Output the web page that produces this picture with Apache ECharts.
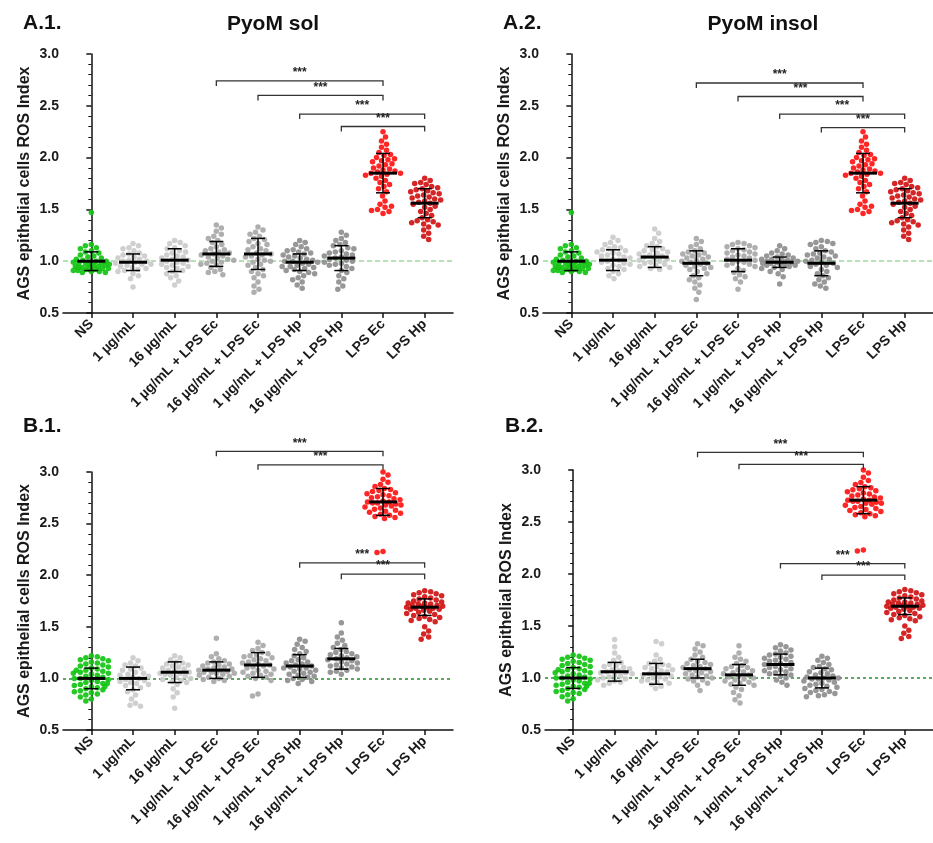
<!DOCTYPE html>
<html><head><meta charset="utf-8">
<script src="https://cdn.jsdelivr.net/npm/echarts@6/dist/echarts.min.js"></script>
<style>html,body{margin:0;padding:0;background:#fff}#c{width:933px;height:843px}</style>
</head><body><div id="c"></div>
<script>
// ---------- categories & ticks ----------
const categories = ['NS','1 µg/mL','16 µg/mL','1 µg/mL + LPS Ec','16 µg/mL + LPS Ec','1 µg/mL + LPS Hp','16 µg/mL + LPS Hp','LPS Ec','LPS Hp'];
const yMin = 0.5, yMax = 3.0, yInterval = 0.5;
const refValue = 1.0;

// ---------- shared controls (panels A) ----------
const A_NS = [1.47,1.16,1.15,1.13,1.12,1.10,1.09,1.08,1.06,1.05,1.04,1.03,1.02,1.01,1.00,1.00,0.99,0.99,0.98,0.98,0.97,0.97,0.96,0.96,0.95,0.95,0.94,0.94,0.93,0.93,0.92,0.92,0.91,0.91,0.90,0.90,0.89,0.89,0.96,0.94];
const A_LPSEc = [2.25,2.20,2.16,2.13,2.10,2.07,2.05,2.03,2.02,2.00,1.99,1.98,1.97,1.96,1.94,1.93,1.92,1.90,1.89,1.88,1.87,1.86,1.85,1.85,1.84,1.83,1.82,1.80,1.78,1.76,1.74,1.72,1.70,1.67,1.63,1.58,1.55,1.52,1.50,1.48,1.46,1.49,1.53];
const A_LPSHp = [1.80,1.78,1.76,1.75,1.74,1.72,1.71,1.70,1.69,1.68,1.67,1.66,1.65,1.64,1.63,1.62,1.61,1.60,1.59,1.58,1.57,1.56,1.55,1.53,1.52,1.50,1.48,1.46,1.44,1.42,1.40,1.39,1.38,1.37,1.36,1.35,1.33,1.30,1.27,1.24,1.21];

// ---------- A.1 PyoM sol ----------
const A1_1ug = [1.17,1.15,1.13,1.12,1.10,1.08,1.07,1.06,1.05,1.04,1.03,1.02,1.01,1.00,1.00,0.99,0.98,0.97,0.97,0.96,0.95,0.94,0.93,0.92,0.91,0.90,0.88,0.86,0.83,0.75];
const A1_16ug = [1.20,1.18,1.17,1.15,1.13,1.12,1.10,1.09,1.08,1.06,1.05,1.04,1.03,1.02,1.01,1.00,0.99,0.98,0.97,0.96,0.95,0.94,0.93,0.91,0.90,0.88,0.86,0.84,0.81,0.77];
const A1_1ugEc = [1.35,1.32,1.29,1.26,1.24,1.22,1.20,1.18,1.16,1.14,1.12,1.11,1.10,1.09,1.08,1.07,1.06,1.05,1.04,1.03,1.02,1.01,1.00,0.99,0.98,0.97,0.96,0.94,0.92,0.90,0.89,0.87];
const A1_16ugEc = [1.33,1.30,1.28,1.26,1.24,1.22,1.21,1.19,1.17,1.16,1.14,1.12,1.11,1.10,1.08,1.07,1.06,1.05,1.04,1.02,1.01,1.00,0.99,0.97,0.96,0.94,0.92,0.90,0.88,0.86,0.84,0.80,0.76,0.73,0.70];
const A1_1ugHp = [1.20,1.18,1.16,1.14,1.12,1.11,1.10,1.09,1.08,1.07,1.06,1.05,1.04,1.03,1.02,1.01,1.00,1.00,0.99,0.98,0.97,0.96,0.95,0.95,0.94,0.93,0.92,0.91,0.90,0.89,0.88,0.86,0.84,0.82,0.80,0.77,0.74];
const A1_16ugHp = [1.28,1.25,1.22,1.20,1.18,1.16,1.15,1.13,1.12,1.10,1.09,1.08,1.07,1.06,1.05,1.04,1.03,1.02,1.01,1.00,0.99,0.98,0.97,0.96,0.95,0.93,0.91,0.89,0.86,0.83,0.80,0.76,0.73];
const A1_mean = [1.00,0.99,1.01,1.07,1.07,0.99,1.03,1.85,1.56];
const A1_sd = [0.09,0.08,0.11,0.12,0.15,0.08,0.12,0.19,0.14];
const A1_brackets = [[3,7,2.74],[4,7,2.60],[5,8,2.42],[6,8,2.30]];

// ---------- A.2 PyoM insol ----------
const A2_1ug = [1.23,1.20,1.18,1.16,1.14,1.13,1.12,1.11,1.10,1.09,1.08,1.07,1.06,1.05,1.04,1.03,1.02,1.01,1.00,0.99,0.98,0.97,0.96,0.95,0.93,0.92,0.90,0.88,0.86,0.83];
const A2_16ug = [1.31,1.27,1.22,1.19,1.17,1.15,1.14,1.12,1.11,1.10,1.09,1.08,1.07,1.06,1.05,1.04,1.03,1.02,1.01,1.00,0.99,0.98,0.97,0.96,0.95,0.94,0.93,0.92];
const A2_1ugEc = [1.22,1.19,1.16,1.14,1.12,1.10,1.09,1.08,1.07,1.06,1.05,1.04,1.03,1.02,1.01,1.00,0.99,0.98,0.97,0.96,0.95,0.94,0.93,0.92,0.90,0.88,0.86,0.84,0.82,0.80,0.77,0.74,0.70,0.63];
const A2_16ugEc = [1.18,1.17,1.16,1.15,1.14,1.13,1.12,1.11,1.10,1.09,1.08,1.07,1.06,1.05,1.04,1.03,1.02,1.01,1.00,0.99,0.98,0.97,0.96,0.95,0.93,0.91,0.89,0.87,0.85,0.83,0.80,0.73];
const A2_1ugHp = [1.15,1.12,1.10,1.08,1.07,1.06,1.05,1.04,1.03,1.02,1.02,1.01,1.01,1.00,1.00,0.99,0.99,0.98,0.98,0.97,0.97,0.96,0.96,0.95,0.94,0.93,0.92,0.90,0.88,0.85,0.78];
const A2_16ugHp = [1.20,1.19,1.18,1.17,1.16,1.14,1.12,1.10,1.09,1.08,1.07,1.06,1.05,1.04,1.03,1.02,1.01,1.00,0.99,0.98,0.97,0.96,0.95,0.94,0.92,0.90,0.88,0.86,0.84,0.82,0.80,0.78,0.76,0.74];
const A2_mean = [1.00,1.01,1.04,0.98,1.01,0.99,0.98,1.85,1.56];
const A2_sd = [0.09,0.10,0.10,0.12,0.11,0.05,0.12,0.19,0.14];
const A2_brackets = [[3,7,2.72],[4,7,2.59],[5,8,2.42],[6,8,2.29]];

// ---------- shared controls (panels B) ----------
const B_NS = [1.22,1.21,1.20,1.19,1.18,1.17,1.16,1.15,1.14,1.13,1.12,1.11,1.10,1.09,1.08,1.07,1.06,1.05,1.04,1.03,1.02,1.01,1.00,1.00,0.99,0.98,0.97,0.96,0.95,0.94,0.93,0.92,0.91,0.90,0.89,0.88,0.87,0.86,0.85,0.84,0.82,0.80,0.78,0.95,1.05,0.92,1.08];
const B_LPSEc = [3.00,2.97,2.93,2.90,2.88,2.86,2.84,2.83,2.82,2.81,2.80,2.79,2.78,2.77,2.76,2.75,2.74,2.73,2.72,2.71,2.71,2.70,2.70,2.69,2.68,2.68,2.67,2.66,2.65,2.64,2.63,2.62,2.61,2.60,2.59,2.58,2.57,2.56,2.55,2.23,2.22];
const B_LPSHp = [1.85,1.84,1.83,1.82,1.81,1.80,1.79,1.78,1.77,1.76,1.75,1.74,1.73,1.73,1.72,1.72,1.71,1.71,1.70,1.70,1.69,1.69,1.68,1.68,1.67,1.67,1.66,1.65,1.64,1.63,1.62,1.61,1.60,1.59,1.58,1.57,1.56,1.55,1.50,1.46,1.43,1.40,1.38];

// ---------- B.1 ----------
const B1_1ug = [1.20,1.17,1.15,1.13,1.12,1.10,1.09,1.08,1.06,1.05,1.04,1.03,1.02,1.01,1.00,0.99,0.98,0.97,0.96,0.95,0.94,0.93,0.91,0.89,0.87,0.84,0.80,0.76,0.74,0.73];
const B1_16ug = [1.22,1.20,1.18,1.16,1.15,1.14,1.13,1.12,1.11,1.10,1.09,1.08,1.07,1.06,1.05,1.05,1.04,1.03,1.02,1.01,1.00,0.99,0.98,0.97,0.96,0.94,0.90,0.86,0.82,0.71];
const B1_1ugEc = [1.39,1.24,1.21,1.19,1.17,1.16,1.15,1.14,1.13,1.12,1.11,1.10,1.09,1.09,1.08,1.08,1.07,1.06,1.06,1.05,1.05,1.04,1.03,1.02,1.01,1.00,0.99,0.98,0.97];
const B1_16ugEc = [1.35,1.32,1.29,1.27,1.25,1.24,1.23,1.22,1.21,1.20,1.19,1.18,1.17,1.16,1.15,1.14,1.13,1.12,1.11,1.10,1.09,1.08,1.07,1.06,1.05,1.04,1.03,1.02,1.01,1.00,0.98,0.85,0.83];
const B1_1ugHp = [1.38,1.36,1.33,1.30,1.28,1.26,1.24,1.22,1.20,1.18,1.17,1.16,1.15,1.14,1.13,1.12,1.11,1.10,1.10,1.09,1.08,1.07,1.06,1.05,1.04,1.03,1.02,1.01,1.00,0.99,0.98,0.97,0.95];
const B1_16ugHp = [1.54,1.44,1.40,1.37,1.34,1.32,1.30,1.28,1.26,1.25,1.24,1.23,1.22,1.21,1.20,1.19,1.18,1.17,1.16,1.15,1.14,1.13,1.12,1.11,1.10,1.09,1.08,1.07,1.06,1.04];
const B1_mean = [1.00,1.00,1.06,1.08,1.13,1.12,1.19,2.71,1.69];
const B1_sd = [0.10,0.11,0.10,0.08,0.12,0.11,0.10,0.13,0.08];
const B1_brackets = [[3,7,3.20],[4,7,3.07],[5,8,2.12],[6,8,2.01]];

// ---------- B.2 ----------
const B2_1ug = [1.37,1.30,1.24,1.20,1.17,1.15,1.13,1.12,1.11,1.10,1.09,1.08,1.07,1.06,1.05,1.05,1.04,1.03,1.02,1.01,1.00,0.99,0.98,0.97,0.96,0.95,0.93];
const B2_16ug = [1.35,1.33,1.22,1.18,1.16,1.14,1.13,1.12,1.11,1.10,1.09,1.08,1.07,1.06,1.05,1.04,1.03,1.02,1.01,1.00,0.99,0.98,0.97,0.96,0.95,0.94,0.92,0.90];
const B2_1ugEc = [1.33,1.31,1.28,1.25,1.22,1.20,1.18,1.16,1.15,1.14,1.13,1.12,1.11,1.10,1.09,1.08,1.07,1.06,1.05,1.04,1.03,1.02,1.01,1.00,0.99,0.98,0.97,0.95,0.93,0.88];
const B2_16ugEc = [1.31,1.24,1.20,1.18,1.16,1.14,1.12,1.11,1.10,1.09,1.08,1.07,1.06,1.05,1.04,1.03,1.02,1.01,1.00,0.99,0.98,0.97,0.96,0.95,0.94,0.93,0.91,0.89,0.86,0.83,0.79,0.76];
const B2_1ugHp = [1.32,1.30,1.29,1.27,1.26,1.24,1.23,1.22,1.21,1.20,1.19,1.18,1.17,1.16,1.15,1.14,1.13,1.12,1.11,1.10,1.09,1.08,1.07,1.06,1.05,1.04,1.03,1.02,1.00,0.98,0.96,0.93];
const B2_16ugHp = [1.21,1.19,1.17,1.15,1.13,1.11,1.10,1.09,1.08,1.06,1.05,1.04,1.03,1.02,1.01,1.00,1.00,0.99,0.99,0.98,0.97,0.96,0.95,0.94,0.93,0.92,0.91,0.90,0.89,0.88,0.87,0.86,0.85,0.84,0.83,0.82];
const B2_mean = [1.00,1.06,1.04,1.09,1.03,1.13,1.00,2.71,1.69];
const B2_sd = [0.10,0.09,0.10,0.09,0.10,0.10,0.095,0.13,0.08];
const B2_brackets = [[3,7,3.17],[4,7,3.055],[5,8,2.10],[6,8,1.99]];

// ---------- panel layout & styles ----------
const FONT = '"Liberation Sans", Arial, sans-serif';
const panels = [
  {tag:'A.1.', title:'PyoM sol', yName:'AGS epithelial cells ROS Index', groups:[A_NS,A1_1ug,A1_16ug,A1_1ugEc,A1_16ugEc,A1_1ugHp,A1_16ugHp,A_LPSEc,A_LPSHp], mean:A1_mean, sd:A1_sd, br:A1_brackets,
   left:63, top:54, width:390, height:259, tagX:23, tagY:24, titleX:273, refStyle:{color:'#9fd69f', type:[5,3], width:1.5}},
  {tag:'A.2.', title:'PyoM insol', yName:'AGS epithelial cells ROS Index', groups:[A_NS,A2_1ug,A2_16ug,A2_1ugEc,A2_16ugEc,A2_1ugHp,A2_16ugHp,A_LPSEc,A_LPSHp], mean:A2_mean, sd:A2_sd, br:A2_brackets,
   left:543, top:54, width:390, height:259, tagX:503, tagY:24, titleX:763, refStyle:{color:'#9fd69f', type:[5,3], width:1.5}},
  {tag:'B.1.', title:'', yName:'AGS epithelial cells ROS Index', groups:[B_NS,B1_1ug,B1_16ug,B1_1ugEc,B1_16ugEc,B1_1ugHp,B1_16ugHp,B_LPSEc,B_LPSHp], mean:B1_mean, sd:B1_sd, br:B1_brackets,
   left:63, top:472, width:390, height:258, tagX:23, tagY:427, titleX:0, refStyle:{color:'#2a8a2a', type:[3,3], width:1.5}},
  {tag:'B.2.', title:'', yName:'AGS epithelial ROS Index', groups:[B_NS,B2_1ug,B2_16ug,B2_1ugEc,B2_16ugEc,B2_1ugHp,B2_16ugHp,B_LPSEc,B_LPSHp], mean:B2_mean, sd:B2_sd, br:B2_brackets,
   left:545, top:470, width:388, height:260, tagX:505, tagY:427, titleX:0, refStyle:{color:'#2a8a2a', type:[3,3], width:1.5}}
];
const groupColors = ['#12c312','#cbcbcb','#cbcbcb','#a8a8a8','#a8a8a8','#8e8e8e','#8e8e8e','#ff1414','#d01414'];
const xMin = -0.68, xMax = 8.68;

// beeswarm layout (deterministic, pixel based)
function swarm(vals, xpx, ypx) {
  const d = 5.6, maxW = 18, placed = [];
  return vals.map((v, k) => {
    const y = v * ypx;
    let best = 0, bestScore = -1;
    outer:
    for (let s = 0; s <= maxW; s += 0.5) {
      const cands = s === 0 ? [0] : (k % 2 ? [s, -s] : [-s, s]);
      for (const dx of cands) {
        let minD = Infinity;
        for (const p of placed) {
          const dy = p.y - y;
          if (Math.abs(dy) < d) { const dd = Math.hypot(p.x - dx, dy); if (dd < minD) minD = dd; }
        }
        if (minD >= d) { best = dx; bestScore = Infinity; break outer; }
        if (minD > bestScore) { bestScore = minD; best = dx; }
      }
    }
    placed.push({x: best, y});
    return best / xpx;
  });
}

const option = {animation:false, backgroundColor:'#fff', grid:[], xAxis:[], yAxis:[], series:[], graphic:[]};

panels.forEach((p, pi) => {
  option.grid.push({left:p.left, top:p.top, width:p.width, height:p.height, containLabel:false});
  option.xAxis.push({
    type:'value', gridIndex:pi, min:xMin, max:xMax,
    splitLine:{show:false},
    axisLine:{show:true, onZero:false, lineStyle:{color:'#111', width:1.5}},
    axisTick:{show:true, customValues:categories.map((c,i)=>i), length:5, lineStyle:{color:'#111', width:1.5}},
    axisLabel:{show:true, customValues:categories.map((c,i)=>i), formatter:v=>categories[Math.round(v)],
      rotate:45, margin:9, fontSize:14, fontWeight:'bold', color:'#1a1a1a', fontFamily:FONT}
  });
  option.yAxis.push({
    type:'value', gridIndex:pi, min:yMin, max:yMax, interval:yInterval,
    name:p.yName, nameLocation:'middle', nameGap:30, nameRotate:90,
    nameTextStyle:{fontSize:16, fontWeight:'bold', color:'#1a1a1a', fontFamily:FONT},
    splitLine:{show:false},
    axisLine:{show:true, lineStyle:{color:'#111', width:1.5}},
    axisTick:{show:true, length:5, lineStyle:{color:'#111', width:1.5}},
    minorTick:{show:true, splitNumber:5, length:3, lineStyle:{color:'#111', width:1}},
    axisLabel:{formatter:v=>v.toFixed(1), fontSize:14, fontWeight:'bold', color:'#1a1a1a', fontFamily:FONT, margin:4}
  });
  const xpx = p.width / (xMax - xMin), ypx = p.height / (yMax - yMin);
  const pts = [];
  p.groups.forEach((g, gi) => {
    const offs = swarm(g, xpx, ypx);
    g.forEach((v, k) => pts.push({value:[gi + offs[k], v], itemStyle:{color:groupColors[gi]}}));
  });
  option.series.push({
    type:'scatter', xAxisIndex:pi, yAxisIndex:pi, symbolSize:5.5, data:pts, z:2,
    itemStyle:{opacity:0.92},
    markLine:{silent:true, symbol:'none', label:{show:false}, lineStyle:p.refStyle, data:[{yAxis:refValue}], z:1}
  });
  option.series.push({
    type:'custom', xAxisIndex:pi, yAxisIndex:pi, z:5,
    data:categories.map((c,i)=>[i, p.mean[i], p.sd[i]]),
    renderItem:(params, api) => {
      const x = api.value(0), m = api.value(1), s = api.value(2);
      const c = api.coord([x, m]), t = api.coord([x, m + s]), b = api.coord([x, m - s]);
      const st = {stroke:'#000', lineWidth:1.5};
      return {type:'group', children:[
        {type:'line', shape:{x1:c[0], y1:t[1], x2:c[0], y2:b[1]}, style:st},
        {type:'line', shape:{x1:c[0]-7, y1:t[1], x2:c[0]+7, y2:t[1]}, style:st},
        {type:'line', shape:{x1:c[0]-7, y1:b[1], x2:c[0]+7, y2:b[1]}, style:st},
        {type:'line', shape:{x1:c[0]-14, y1:c[1], x2:c[0]+14, y2:c[1]}, style:{stroke:'#000', lineWidth:3}}
      ]};
    }
  });
  option.series.push({
    type:'custom', xAxisIndex:pi, yAxisIndex:pi, z:6, clip:false,
    data:p.br,
    renderItem:(params, api) => {
      const a = api.coord([api.value(0), api.value(2)]), b = api.coord([api.value(1), api.value(2)]);
      return {type:'group', children:[
        {type:'polyline', shape:{points:[[a[0], a[1]+5],[a[0], a[1]],[b[0], b[1]],[b[0], b[1]+5]]}, style:{stroke:'#333', lineWidth:1.3, fill:null}},
        {type:'text', style:{x:(a[0]+b[0])/2, y:a[1]-2, text:'***', align:'center', verticalAlign:'bottom', font:'bold 12px ' + FONT, fill:'#222'}}
      ]};
    }
  });
  option.graphic.push({type:'text', left:p.tagX, top:p.tagY - 11, style:{text:p.tag, font:'bold 21px ' + FONT, fill:'#111'}});
  if (p.title) option.graphic.push({type:'text', x:p.titleX, y:p.tagY, style:{text:p.title, font:'bold 21px ' + FONT, fill:'#111', align:'center', verticalAlign:'middle'}});
});

const chart = echarts.init(document.getElementById('c'), null, {renderer:'canvas'});
chart.setOption(option);
</script>
</body></html>
